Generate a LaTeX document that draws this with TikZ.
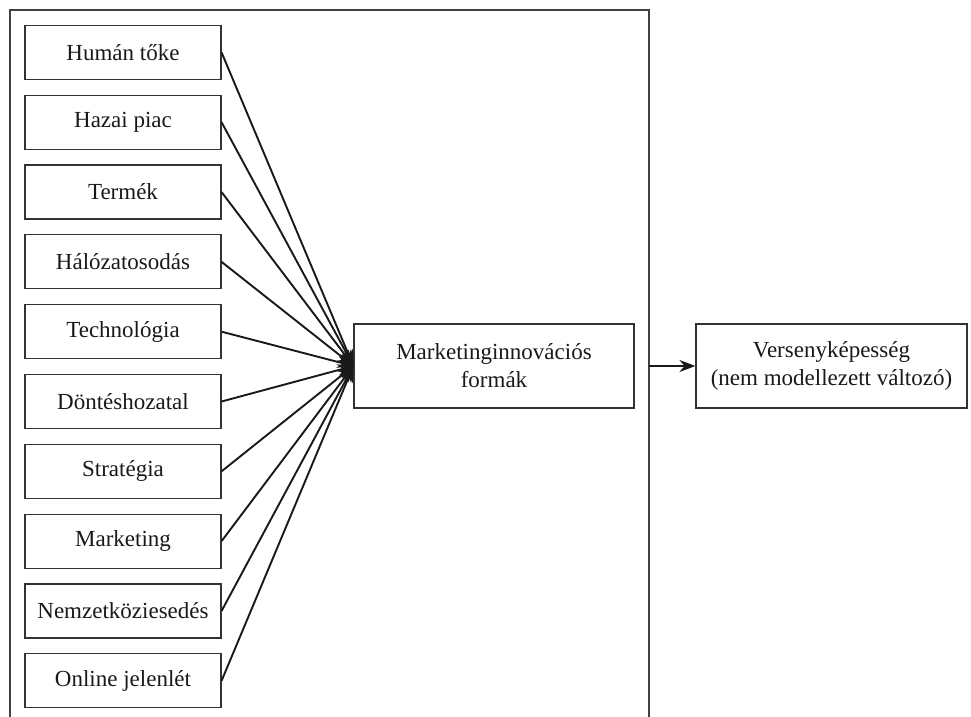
\documentclass[tikz,border=0pt]{standalone}
\usepackage{fontspec}
\setmainfont{Liberation Serif}
\usetikzlibrary{arrows.meta}
\begin{document}
\begin{tikzpicture}[x=0.5pt,y=-0.5pt,
  box/.style={draw=black!80, line width=0.6pt, inner sep=0pt, align=center,
    font=\fontsize{11.5}{14}\selectfont, text=black!90},
  small/.style={box, minimum width=98pt, minimum height=27pt},
  conn/.style={line width=0.95pt, black!90, -{Stealth[length=8pt,width=6pt]}},
  frame/.style={line width=0.6pt, black!75}]
\useasboundingbox (0,0) rectangle (971,717);
% open frame
\coordinate (f1) at (10,717);
\coordinate (f2) at (10,10);
\coordinate (f3) at (649,10);
\coordinate (f4) at (649,717);
\draw[frame] (f1) -- (f2) -- (f3) -- (f4);
% left boxes
\foreach \t [count=\i from 0] in {Humán tőke,Hazai piac,Termék,Hálózatosodás,Technológia,Döntéshozatal,Stratégia,Marketing,Nemzetköziesedés,Online jelenlét}
  \node[small] (b\i) at (123,{52.5+69.8*\i}) {\t};
% middle box
\node[box, minimum width=140pt, minimum height=42pt] (mid) at (494,366) {Marketinginnovációs\\formák};
% right box
\node[box, minimum width=135.5pt, minimum height=42pt] (res) at (831.5,366) {Versenyképesség\\(nem modellezett változó)};
% connectors
\foreach \i in {0,...,9}
  \draw[conn] (b\i.east) -- (mid.west);
\coordinate (fx) at (649,366);
\draw[conn] (fx) -- (res.west);
\end{tikzpicture}
\end{document}
